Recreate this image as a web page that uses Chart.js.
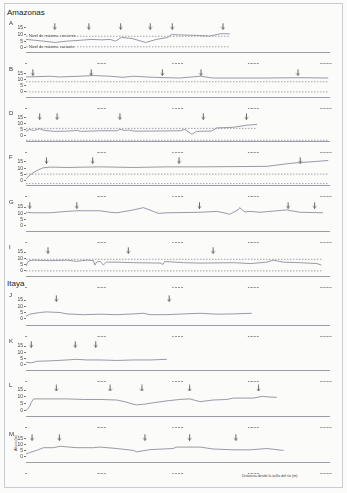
<!DOCTYPE html>
<html>
<head>
<meta charset="utf-8">
<script src="https://cdn.jsdelivr.net/npm/chart.js@4.4.1/dist/chart.umd.min.js"></script>
<style>
  body { margin: 0; width: 347px; height: 493px; overflow: hidden; position: relative;
         background: #fbfbfa; font-family: "Liberation Sans", Arial, sans-serif; }
  .frame { position: absolute; left: 4px; top: 3px; width: 337px; height: 483px; border: 1px solid #cbccd2; }
  .head { position: absolute; left: 7px; font-size: 8px; color: #222; }
  .letter { position: absolute; left: 9px; font-size: 6px; color: #333; }
  .xtitle { position: absolute; left: 242px; top: 474px; font-size: 3.6px; color: #444; white-space: nowrap; }
  .ytitle { position: absolute; left: 8px; top: 441px; font-size: 3.6px; color: #444; white-space: nowrap;
            transform: rotate(-90deg); transform-origin: center; }
  canvas { position: absolute; left: 0; }
</style>
</head>
<body>
<div class="frame"></div>
<div class="head" style="top:8px">Amazonas</div>
<div class="head" style="top:279px">Itaya</div>
<div class="xtitle">Distancia desde la orilla del río (m)</div>
<div class="ytitle">Altura (m)</div>
<script>
// distances along the transect (m) and heights (m), one pair per panel
const distA = [0, 100, 190, 270, 350, 430, 500, 555, 590, 630, 700, 790, 860, 935, 960, 1050, 1130, 1210, 1290, 1345];
const hA = [6.3, 5.2, 4.0, 5.0, 5.6, 6.3, 6.0, 6.3, 5.0, 7.8, 7.0, 4.0, 6.3, 7.8, 10.0, 9.6, 9.4, 8.9, 10.7, 10.5];
const arrowsA = [190, 415, 625, 820, 965, 1300];

const distB = [0, 160, 215, 355, 445, 555, 640, 710, 840, 1015, 1150, 1235, 1590, 1810, 1995];
const hB = [12.5, 13.1, 12.5, 13.1, 13.7, 13.1, 12.2, 13.1, 12.2, 11.6, 13.1, 11.6, 11.6, 11.9, 11.6];
const arrowsB = [45, 430, 900, 1155, 1795];

const distD = [0, 25, 50, 90, 125, 190, 270, 335, 365, 490, 600, 620, 655, 675, 710, 820, 1015, 1050, 1095, 1125, 1225, 1260, 1370, 1455, 1525];
const hD = [3.8, 5.4, 4.5, 5.9, 4.5, 3.8, 4.0, 4.5, 3.8, 4.3, 4.3, 5.4, 4.5, 5.0, 4.0, 4.0, 4.3, 5.4, 1.3, 3.8, 4.0, 6.7, 7.2, 8.9, 9.6];
const arrowsD = [90, 205, 620, 1170, 1455];

const distF = [0, 25, 70, 115, 160, 270, 490, 710, 930, 1150, 1370, 1590, 1745, 1995];
const hF = [1.2, 4.6, 8.1, 10.4, 10.9, 10.6, 11.1, 10.6, 11.1, 11.1, 11.3, 11.5, 13.9, 16.2];
const arrowsF = [135, 440, 1010, 1810];

const distG = [0, 50, 160, 270, 335, 490, 555, 600, 710, 775, 840, 875, 930, 1150, 1260, 1325, 1345, 1380, 1400, 1410, 1445, 1480, 1545, 1655, 1720, 1810, 1960];
const hG = [10.8, 10.4, 10.4, 11.5, 12.0, 12.0, 10.8, 10.4, 12.7, 14.5, 11.5, 9.9, 10.4, 10.8, 11.5, 9.9, 9.2, 11.5, 12.7, 14.5, 11.0, 11.5, 10.8, 12.0, 12.7, 10.8, 10.4];
const arrowsG = [25, 335, 1145, 1730, 1905];

const distI = [0, 10, 25, 50, 160, 270, 335, 400, 445, 455, 465, 490, 510, 530, 600, 710, 885, 905, 915, 1040, 1150, 1370, 1480, 1590, 1630, 1700, 1810, 1920, 1950];
const hI = [3.5, 6.9, 8.1, 8.5, 8.1, 8.5, 7.6, 8.5, 8.1, 4.6, 6.9, 7.6, 4.6, 6.9, 6.9, 6.5, 6.2, 5.1, 7.4, 6.5, 6.2, 6.5, 5.8, 6.9, 8.5, 6.9, 6.5, 5.8, 4.6];
const arrowsI = [145, 675, 1235];

const distJ = [0, 25, 90, 135, 225, 270, 380, 490, 600, 710, 775, 820, 930, 1040, 1150, 1260, 1370, 1490];
const hJ = [2.2, 3.8, 5.1, 5.6, 5.1, 4.0, 3.4, 3.8, 3.4, 4.0, 4.5, 3.4, 3.4, 4.0, 4.5, 3.8, 4.0, 4.5];
const arrowsJ = [200, 945];

const distK = [0, 35, 70, 160, 270, 335, 400, 490, 600, 710, 820, 930];
const hK = [2.1, 1.6, 2.8, 3.2, 3.9, 4.4, 3.9, 3.9, 3.5, 3.9, 3.9, 4.4];
const arrowsK = [35, 325, 460];

const distL = [0, 25, 35, 50, 160, 270, 380, 490, 600, 665, 710, 730, 775, 840, 930, 1015, 1080, 1150, 1190, 1235, 1325, 1370, 1500, 1565, 1590, 1655];
const hL = [0, 3.3, 6.2, 8.6, 8.6, 8.6, 8.2, 8.2, 7.8, 6.2, 4.7, 4.3, 4.7, 5.8, 7.2, 8.2, 8.6, 6.6, 7.2, 7.8, 8.2, 9.2, 9.2, 10.5, 10.1, 9.7];
const arrowsL = [200, 555, 765, 1080, 1535];

const distM = [0, 25, 70, 115, 180, 225, 270, 335, 445, 490, 600, 710, 730, 820, 970, 995, 1150, 1235, 1370, 1480, 1590, 1700];
const hM = [2.3, 3.7, 5.4, 7.7, 7.7, 8.9, 8.4, 7.7, 7.7, 8.2, 7.0, 5.4, 4.2, 6.1, 7.0, 8.2, 8.2, 6.6, 5.9, 5.9, 7.0, 5.4];
const arrowsM = [40, 220, 785, 1080, 1385];

// flood levels: [crest level, end], [trough level, end]
const crestA = [8.7, 1345], troughA = [0.7, 1345];
const crestB = [8.5, 1995], troughB = [0, 1995];
const crestD = [6.3, 1525], troughD = [-3.7, 2000];
const crestF = [5.3, 1995], troughF = [-2.3, 1995];
const crestI = [9.2, 1950], troughI = [0, 1950];

const xTicks = [0, 500, 1000, 1500, 2000];
const yTicks = [0, 5, 10, 15];
const arrowLevel = 16.5;

// page layout: pixel of the 15 tick, the 0 tick and the x axis
const panels = [
  { id: 'A', dist: distA, h: hA, arrows: arrowsA, crest: crestA, trough: troughA, top: 24, zero: 47, axis: 52, notes: true },
  { id: 'B', dist: distB, h: hB, arrows: arrowsB, crest: crestB, trough: troughB, top: 70, zero: 91, axis: 97 },
  { id: 'D', dist: distD, h: hD, arrows: arrowsD, crest: crestD, trough: troughD, top: 114, zero: 135, axis: 141 },
  { id: 'F', dist: distF, h: hF, arrows: arrowsF, crest: crestF, trough: troughF, top: 158, zero: 180, axis: 185 },
  { id: 'G', dist: distG, h: hG, arrows: arrowsG, top: 203, zero: 225, axis: 231 },
  { id: 'I', dist: distI, h: hI, arrows: arrowsI, crest: crestI, trough: troughI, top: 248, zero: 270, axis: 276 },
  { id: 'J', dist: distJ, h: hJ, arrows: arrowsJ, top: 296, zero: 318, axis: 325 },
  { id: 'K', dist: distK, h: hK, arrows: arrowsK, top: 342, zero: 364, axis: 370 },
  { id: 'L', dist: distL, h: hL, arrows: arrowsL, top: 386, zero: 410, axis: 416 },
  { id: 'M', dist: distM, h: hM, arrows: arrowsM, top: 435, zero: 456, axis: 462 }
];

// small down arrow used as point style
const arrowImg = document.createElement('canvas');
arrowImg.width = 5; arrowImg.height = 7;
(function() {
  const g = arrowImg.getContext('2d');
  g.strokeStyle = '#444'; g.lineWidth = 0.8;
  g.beginPath();
  g.moveTo(2.5, 0.5); g.lineTo(2.5, 6.5);
  g.moveTo(1, 4.6); g.lineTo(2.5, 6.5); g.lineTo(4, 4.6);
  g.stroke();
})();

const notesPlugin = {
  id: 'notes',
  afterDatasetsDraw(chart) {
    if (!chart.options.plugins.notes.show) return;
    const ctx = chart.ctx, x = chart.scales.x, y = chart.scales.y;
    const rows = [['Nivel de máxima creciente', crestA[0]], ['Nivel de máxima vaciante', troughA[0]]];
    ctx.save();
    ctx.font = '4px "Liberation Sans", Arial, sans-serif';
    ctx.textBaseline = 'middle';
    rows.forEach(r => {
      const px = x.getPixelForValue(20), py = y.getPixelForValue(r[1]);
      const w = ctx.measureText(r[0]).width;
      ctx.fillStyle = '#fbfbfa';
      ctx.fillRect(px - 1, py - 2.5, w + 2, 5);
      ctx.fillStyle = '#333';
      ctx.fillText(r[0], px, py);
    });
    ctx.restore();
  }
};

function dashed(level) {
  return {
    data: [{ x: 0, y: level[0] }, { x: level[1], y: level[0] }],
    showLine: true, borderColor: '#8a8c96', borderWidth: 0.8, borderDash: [1.5, 1.5],
    pointRadius: 0
  };
}

panels.forEach(p => {
  const chartTop = p.top - 7;
  const ppu = (p.zero - p.top) / 15;
  const yMax = 15 + 7 / ppu;
  const yMin = -(p.axis - p.zero) / ppu;

  const c = document.createElement('canvas');
  c.width = 347; c.height = p.axis - chartTop + 12;
  c.style.top = chartTop + 'px';
  document.body.appendChild(c);

  const lab = document.createElement('div');
  lab.className = 'letter';
  lab.style.top = (p.top - 4) + 'px';
  lab.textContent = p.id;
  document.body.appendChild(lab);

  const datasets = [{
    data: p.dist.map((d, i) => ({ x: d, y: p.h[i] })),
    showLine: true, borderColor: '#7d8194', borderWidth: 0.8, pointRadius: 0
  }];
  if (p.crest) datasets.push(dashed(p.crest));
  if (p.trough) datasets.push(dashed(p.trough));
  datasets.push({
    data: p.arrows.map(d => ({ x: d, y: arrowLevel })),
    pointStyle: arrowImg, pointRadius: 3, clip: false
  });

  new Chart(c.getContext('2d'), {
    type: 'scatter',
    data: { datasets: datasets },
    plugins: [notesPlugin],
    options: {
      responsive: false,
      animation: false,
      devicePixelRatio: 1,
      layout: { padding: { left: 0, right: 18, top: 0, bottom: 0 } },
      plugins: { legend: { display: false }, tooltip: { enabled: false }, notes: { show: !!p.notes } },
      scales: {
        x: {
          type: 'linear', min: 0, max: 2000,
          afterBuildTicks: s => { s.ticks = xTicks.map(v => ({ value: v })); },
          afterFit: s => { s.height = 12; s.paddingLeft = 0; s.paddingRight = 0; },
          ticks: { autoSkip: false, maxRotation: 0, padding: 2, color: '#444', font: { size: 5.5 },
                   callback: v => v === 2000 ? '2000 m' : v },
          grid: { display: false },
          border: { display: true, color: '#9a9cab', width: 1 }
        },
        y: {
          min: yMin, max: yMax,
          afterBuildTicks: s => { s.ticks = yTicks.map(v => ({ value: v })); },
          afterFit: s => { s.width = 26; s.paddingTop = 0; s.paddingBottom = 0; },
          ticks: { autoSkip: false, padding: 1, color: '#444', font: { size: 5 } },
          grid: { display: true, drawOnChartArea: false, drawTicks: true, tickLength: 2, color: '#777' },
          border: { display: false }
        }
      }
    }
  });
});
</script>
</body>
</html>
